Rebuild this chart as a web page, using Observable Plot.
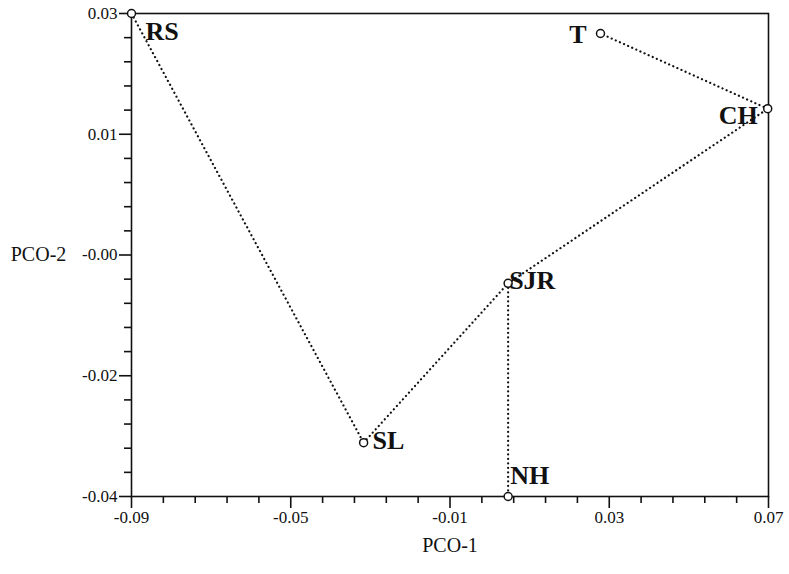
<!DOCTYPE html>
<html><head><meta charset="utf-8">
<script src="https://cdn.jsdelivr.net/npm/d3@7"></script>
<script src="https://cdn.jsdelivr.net/npm/@observablehq/plot@0.6"></script>
<style>
html,body{margin:0;padding:0;background:#fff;}
svg{display:block;}
</style>
</head><body><div id="chart"></div>
<script>
// Data
const sites = ["RS", "T", "CH", "SJR", "SL", "NH"];
const pco1 = [-0.09, 0.0278, 0.0698, 0.0046, -0.0317, 0.0046];
const pco2 = [0.03, 0.0271, 0.0162, -0.0091, -0.0322, -0.04];
const edgeFrom = ["RS", "SL", "SJR", "CH", "SJR"];
const edgeTo   = ["SL", "SJR", "CH", "T", "NH"];
const xTickValues = [-0.09, -0.05, -0.01, 0.03, 0.07];
const xTickLabels = ["-0.09", "-0.05", "-0.01", "0.03", "0.07"];
const yTickValues = [0.03, 0.0125, -0.005, -0.0225, -0.04];
const yTickLabels = ["0.03", "0.01", "-0.00", "-0.02", "-0.04"];
const xTitle = "PCO-1";
const yTitle = "PCO-2";

// Build tables
const points = sites.map((s, i) => ({site: s, x: pco1[i], y: pco2[i]}));
const byName = Object.fromEntries(points.map(p => [p.site, p]));
const edges = edgeFrom.map((f, i) => ({a: byName[f], b: byName[edgeTo[i]]}));

// Minor ticks: 5 subdivisions between major ticks
function minor(vals) {
  const out = [];
  const v = [...vals].sort((a, b) => a - b);
  for (let i = 0; i < v.length - 1; i++) {
    const step = (v[i + 1] - v[i]) / 5;
    for (let k = 1; k < 5; k++) out.push(v[i] + k * step);
  }
  return out;
}
const xMinor = minor(xTickValues);
const yMinor = minor(yTickValues);

// Label placement (styling)
const placement = {
  RS:  {dx: 14,  dy: 18,  anchor: "start"},
  T:   {dx: -14, dy: 1,   anchor: "end"},
  CH:  {dx: -10, dy: 7,   anchor: "end"},
  SJR: {dx: 1,   dy: -3,  anchor: "start"},
  SL:  {dx: 9,   dy: -2,  anchor: "start"},
  NH:  {dx: 2,   dy: -21, anchor: "start"}
};

const serif = "'Liberation Serif', 'Times New Roman', serif";
const xFmt = d => xTickLabels[xTickValues.indexOf(d)];
const yFmt = d => yTickLabels[yTickValues.indexOf(d)];

const labelMarks = sites.map(s => Plot.text(points.filter(p => p.site === s), {
  x: "x", y: "y", text: "site",
  dx: placement[s].dx, dy: placement[s].dy, textAnchor: placement[s].anchor,
  fontSize: 26, fontWeight: "bold", fontFamily: serif, fill: "#111"
}));

const chart = Plot.plot({
  width: 789,
  height: 574,
  marginLeft: 131,
  marginRight: 21,
  marginTop: 13,
  marginBottom: 78,
  style: {fontFamily: serif, fontSize: "17px", color: "#111", background: "#fff"},
  x: {domain: [-0.09, 0.07]},
  y: {domain: [-0.04, 0.03]},
  marks: [
    Plot.frame({stroke: "#111", strokeWidth: 1.6}),
    Plot.axisX(xMinor, {tickSize: 7, text: null, label: null, stroke: "#111", strokeWidth: 1.6}),
    Plot.axisX(xTickValues, {tickSize: 12, tickPadding: 2, tickFormat: xFmt, stroke: "#111", strokeWidth: 1.6, fontSize: 17, label: null}),
    Plot.axisY(yMinor, {tickSize: 7, text: null, label: null, stroke: "#111", strokeWidth: 1.6}),
    Plot.axisY(yTickValues, {tickSize: 12, tickPadding: 2, tickFormat: yFmt, stroke: "#111", strokeWidth: 1.6, fontSize: 17, label: null}),
    Plot.link(edges, {
      x1: d => d.a.x, y1: d => d.a.y, x2: d => d.b.x, y2: d => d.b.y,
      stroke: "#111", strokeWidth: 2.2, strokeDasharray: "0.1 4.4", strokeLinecap: "round"
    }),
    Plot.dot(points, {x: "x", y: "y", r: 4, stroke: "#111", strokeWidth: 1.5, fill: "#fff"}),
    ...labelMarks,
    Plot.text([xTitle], {frameAnchor: "bottom", lineAnchor: "middle", dy: 49, fontSize: 20, fontFamily: serif, fill: "#111"}),
    Plot.text([yTitle], {frameAnchor: "left", lineAnchor: "middle", dx: -93, textAnchor: "middle", fontSize: 20, fontFamily: serif, fill: "#111"})
  ]
});
document.getElementById("chart").appendChild(chart);
</script>
</body></html>
